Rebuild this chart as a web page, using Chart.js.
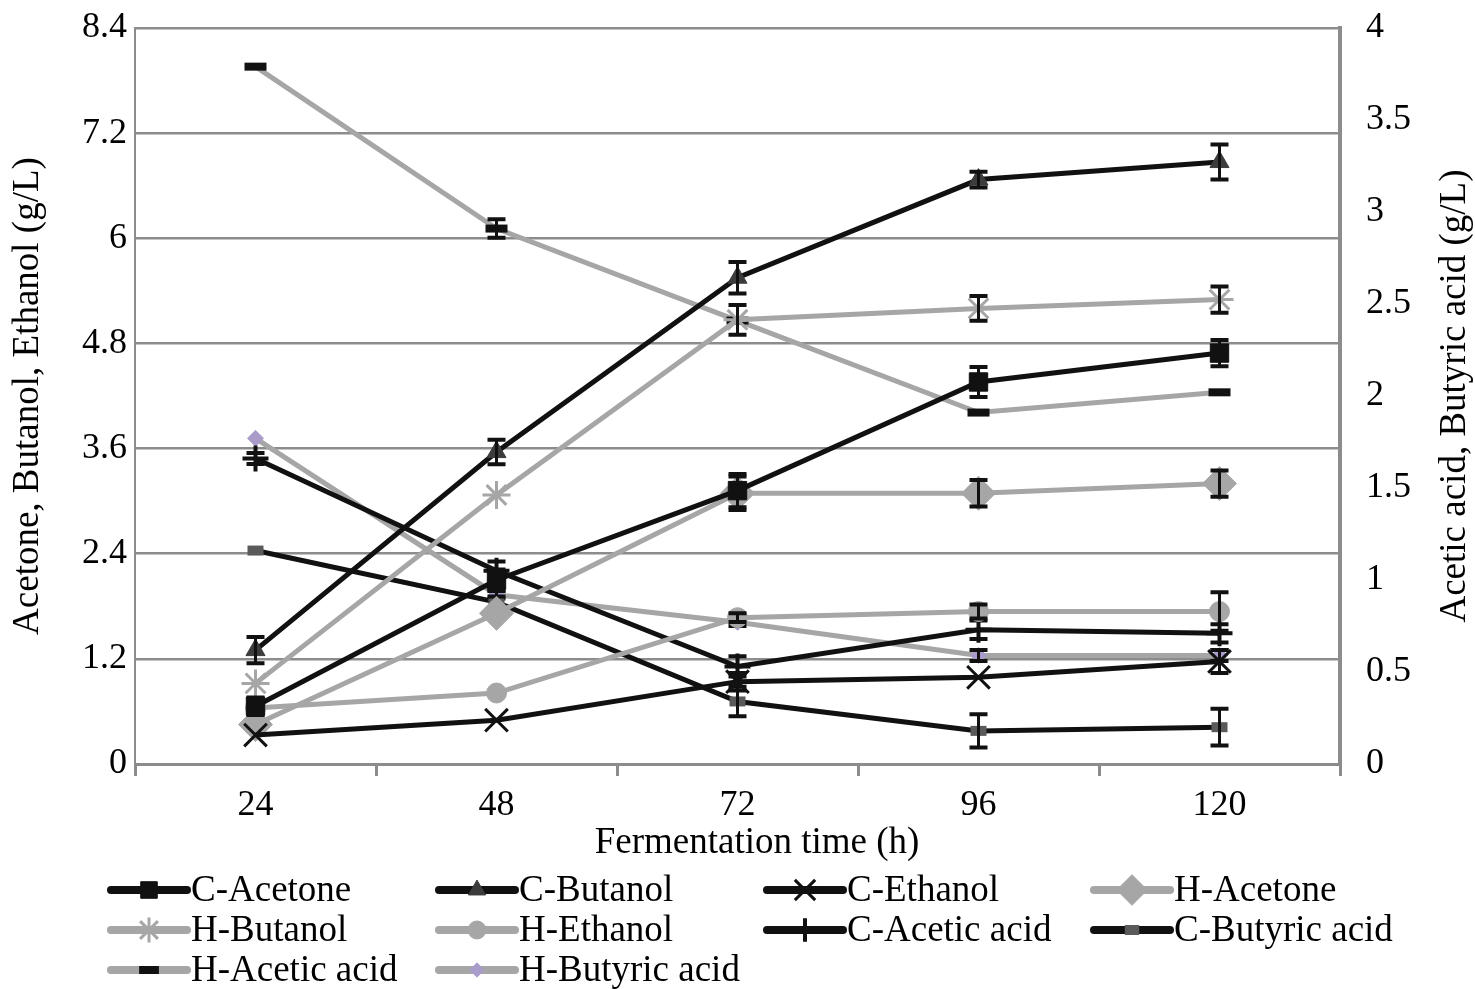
<!DOCTYPE html>
<html>
<head>
<meta charset="utf-8">
<script src="https://cdn.jsdelivr.net/npm/chart.js@4.4.0/dist/chart.umd.min.js"></script>
<style>
  html, body { margin: 0; padding: 0; background: #fff; }
  canvas { display: block; }
</style>
</head>
<body>
<canvas id="chart" width="1475" height="989"></canvas>
<script>
// --- Data ---
const hours = ['24', '48', '72', '96', '120'];
const leftTicks = [0, 1.2, 2.4, 3.6, 4.8, 6, 7.2, 8.4];
const rightTicks = [0, 0.5, 1, 1.5, 2, 2.5, 3, 3.5, 4];

// left axis (g/L)
const cAcetone = [0.66, 2.10, 3.12, 4.36, 4.69];
const cButanol = [1.30, 3.56, 5.55, 6.67, 6.87];
const cEthanol = [0.33, 0.50, 0.94, 0.99, 1.17];
const hAcetone = [0.45, 1.72, 3.09, 3.09, 3.20];
const hButanol = [0.92, 3.07, 5.07, 5.20, 5.30];
const hEthanol = [0.64, 0.81, 1.67, 1.74, 1.74];
// right axis (g/L)
const cAcetic = [1.66, 1.05, 0.53, 0.73, 0.71];
const cButyric = [1.16, 0.88, 0.34, 0.18, 0.20];
const hAcetic = [3.79, 2.91, 2.41, 1.91, 2.02];
const hButyric = [1.77, 0.92, 0.77, 0.59, 0.59];

// error bar half widths, same units as each series
const cAcetoneErr = [0.10, 0.12, 0.19, 0.17, 0.15];
const cButanolErr = [0.15, 0.14, 0.18, 0.09, 0.20];
const cEthanolErr = [0, 0, 0.10, 0, 0.13];
const hAcetoneErr = [0, 0, 0.19, 0.15, 0.15];
const hButanolErr = [0, 0, 0.17, 0.14, 0.15];
const hEthanolErr = [0, 0, 0.05, 0.08, 0.22];
const cAceticErr = [0.03, 0.05, 0.055, 0.05, 0.05];
const cButyricErr = [0, 0.03, 0.08, 0.09, 0.10];
const hAceticErr = [0, 0.05, 0, 0, 0];
const hButyricErr = [0, 0.02, 0.02, 0.03, 0.03];

const BLACK = '#111111';
const GRAY = '#a6a6a6';
const GRID = '#8c8c8c';
const FONT = '"Liberation Serif", "Times New Roman", serif';

function series(label, data, err, axis, color, style) {
    return Object.assign({
        label, data, err,
        yAxisID: axis,
        borderColor: color,
        borderWidth: 5,
        tension: 0,
        pointBorderWidth: 1,
    }, style);
}

const datasets = [
    series('C-Acetone', cAcetone, cAcetoneErr, 'y', BLACK,
        { pointStyle: 'rect', pointRadius: 13, pointBackgroundColor: BLACK, pointBorderColor: BLACK }),
    series('C-Butanol', cButanol, cButanolErr, 'y', BLACK,
        { pointStyle: 'triangle', pointRadius: 11, pointBackgroundColor: '#3c3c3c', pointBorderColor: '#3c3c3c' }),
    series('C-Ethanol', cEthanol, cEthanolErr, 'y', BLACK,
        { pointStyle: 'crossRot', pointRadius: 16, pointBackgroundColor: BLACK, pointBorderColor: BLACK, pointBorderWidth: 3 }),
    series('H-Acetone', hAcetone, hAcetoneErr, 'y', GRAY,
        { pointStyle: 'rectRot', pointRadius: 17, pointBackgroundColor: GRAY, pointBorderColor: GRAY }),
    series('H-Butanol', hButanol, hButanolErr, 'y', GRAY,
        { pointStyle: 'star', pointRadius: 14, pointBackgroundColor: GRAY, pointBorderColor: GRAY, pointBorderWidth: 3 }),
    series('H-Ethanol', hEthanol, hEthanolErr, 'y', GRAY,
        { pointStyle: 'circle', pointRadius: 10, pointBackgroundColor: GRAY, pointBorderColor: GRAY }),
    series('C-Acetic acid', cAcetic, cAceticErr, 'y1', BLACK,
        { pointStyle: 'cross', pointRadius: 13, pointBackgroundColor: BLACK, pointBorderColor: BLACK, pointBorderWidth: 4 }),
    series('C-Butyric acid', cButyric, cButyricErr, 'y1', BLACK,
        { pointStyle: 'line', pointRadius: 8, pointBackgroundColor: '#5a5a5a', pointBorderColor: '#5a5a5a', pointBorderWidth: 10 }),
    series('H-Acetic acid', hAcetic, hAceticErr, 'y1', GRAY,
        { pointStyle: 'line', pointRadius: 11, pointBackgroundColor: BLACK, pointBorderColor: BLACK, pointBorderWidth: 8 }),
    series('H-Butyric acid', hButyric, hButyricErr, 'y1', GRAY,
        { pointStyle: 'rectRot', pointRadius: 8, pointBackgroundColor: '#a99ccb', pointBorderColor: '#a99ccb' }),
];

// --- error bars, drawn right after each dataset ---
const errorBars = {
    id: 'errorBars',
    afterDatasetDraw(chart, args) {
        const ds = chart.data.datasets[args.index];
        if (!ds.err) return;
        const meta = args.meta;
        const yScale = chart.scales[ds.yAxisID];
        const ctx = chart.ctx;
        ctx.save();
        ctx.strokeStyle = BLACK;
        meta.data.forEach((pt, i) => {
            const e = ds.err[i];
            if (!e) return;
            const top = yScale.getPixelForValue(ds.data[i] + e);
            const bot = yScale.getPixelForValue(ds.data[i] - e);
            ctx.lineWidth = 3;
            ctx.beginPath();
            ctx.moveTo(pt.x, top); ctx.lineTo(pt.x, bot);
            ctx.stroke();
            ctx.lineWidth = 4;
            ctx.beginPath();
            ctx.moveTo(pt.x - 9, top); ctx.lineTo(pt.x + 9, top);
            ctx.moveTo(pt.x - 9, bot); ctx.lineTo(pt.x + 9, bot);
            ctx.stroke();
        });
        ctx.restore();
    }
};

// --- axis titles and legend laid out like the figure ---
const decorations = {
    id: 'decorations',
    afterDraw(chart) {
        const ctx = chart.ctx;
        const area = chart.chartArea;
        const midY = (area.top + area.bottom) / 2;
        ctx.save();
        ctx.fillStyle = '#000';
        ctx.font = '37px ' + FONT;
        ctx.textAlign = 'center';
        ctx.textBaseline = 'middle';

        ctx.fillText('Fermentation time (h)', 757, 843);

        ctx.save();
        ctx.translate(28, midY);
        ctx.rotate(-Math.PI / 2);
        ctx.fillText('Acetone, Butanol, Ethanol (g/L)', 0, 0);
        ctx.restore();

        ctx.save();
        ctx.translate(1455, midY);
        ctx.rotate(-Math.PI / 2);
        ctx.fillText('Acetic acid, Butyric acid (g/L)', 0, 0);
        ctx.restore();

        // legend
        const colX = [107, 435, 763, 1090];
        const rowY = [890, 930, 970];
        ctx.textAlign = 'left';
        chart.data.datasets.forEach((ds, i) => {
            const x0 = colX[i % 4];
            const y = rowY[Math.floor(i / 4)];
            ctx.strokeStyle = ds.borderColor;
            ctx.lineWidth = 8;
            ctx.lineCap = 'round';
            ctx.beginPath();
            ctx.moveTo(x0 + 4, y); ctx.lineTo(x0 + 80, y);
            ctx.stroke();
            ctx.lineCap = 'butt';
            ctx.fillStyle = ds.pointBackgroundColor;
            ctx.strokeStyle = ds.pointBorderColor;
            ctx.lineWidth = ds.pointBorderWidth;
            Chart.helpers.drawPoint(ctx, {
                pointStyle: ds.pointStyle,
                radius: ds.pointRadius * 0.9,
                rotation: 0,
                borderWidth: ds.pointBorderWidth
            }, x0 + 42, y);
            ctx.fillStyle = '#000';
            ctx.fillText(ds.label, x0 + 84, y + 1);
        });
        ctx.restore();
    }
};

const tickFont = { family: FONT, size: 36 };

// fixed axis band sizes so the plot area sits where the figure's does
function fixVertical(s) {
    s.width = 135;
    s.paddingTop = 0;
    s.paddingBottom = 0;
}

new Chart(document.getElementById('chart'), {
    type: 'line',
    data: { labels: hours, datasets },
    options: {
        responsive: false,
        animation: false,
        devicePixelRatio: 1,
        layout: { padding: { top: 28, bottom: 125, left: 0, right: 0 } },
        plugins: { legend: { display: false }, tooltip: { enabled: false } },
        scales: {
            x: {
                type: 'category',
                offset: true,
                grid: { display: true, drawOnChartArea: false, drawTicks: true, tickLength: 12, color: GRID, lineWidth: 3, offset: true },
                border: { color: GRID, width: 3 },
                ticks: { color: '#000', font: tickFont, padding: 8, maxRotation: 0 },
                afterFit: s => { s.height = 100; s.paddingLeft = 0; s.paddingRight = 0; }
            },
            y: {
                position: 'left',
                min: 0, max: 8.4,
                afterBuildTicks: s => { s.ticks = leftTicks.map(v => ({ value: v })); },
                ticks: { color: '#000', font: tickFont, padding: 8, callback: v => String(v) },
                grid: { color: GRID, lineWidth: 2.5, drawTicks: false },
                border: { color: GRID, width: 2 },
                afterFit: fixVertical
            },
            y1: {
                position: 'right',
                min: 0, max: 4,
                afterBuildTicks: s => { s.ticks = rightTicks.map(v => ({ value: v })); },
                ticks: { color: '#000', font: tickFont, padding: 26, callback: v => String(v) },
                grid: { drawOnChartArea: false, drawTicks: false },
                border: { color: GRID, width: 4 },
                afterFit: fixVertical
            }
        }
    },
    plugins: [errorBars, decorations]
});
</script>
</body>
</html>
